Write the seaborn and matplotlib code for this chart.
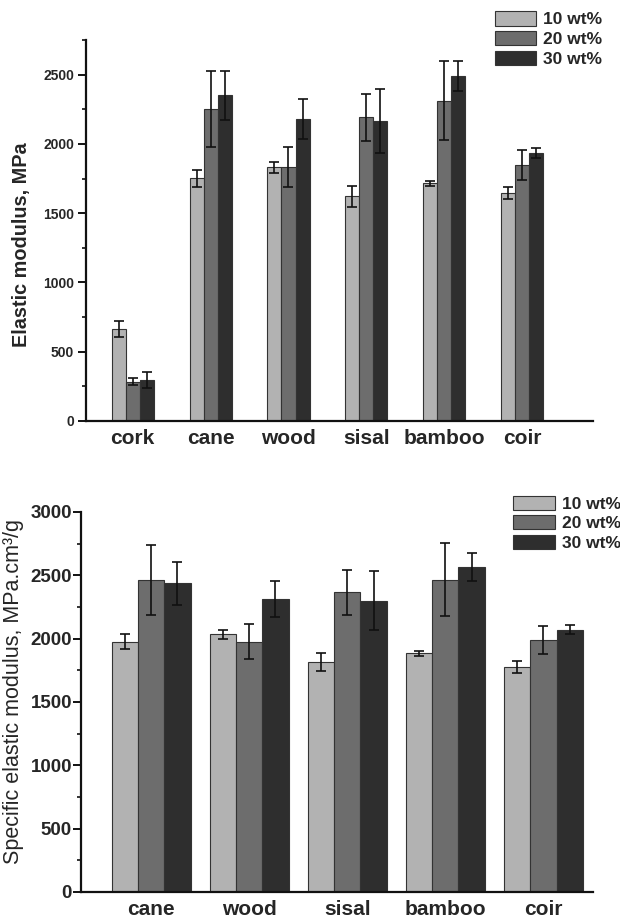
import numpy as np
import pandas as pd
import matplotlib
matplotlib.use("Agg")
import matplotlib.pyplot as plt
import seaborn as sns

# values
loadings = ["10 wt%", "20 wt%", "30 wt%"]
fibres_top = ["cork", "cane", "wood", "sisal", "bamboo", "coir"]
modulus_10 = [664, 1751, 1831, 1623, 1715, 1647]
modulus_20 = [283, 2251, 1831, 2191, 2312, 1848]
modulus_30 = [295, 2350, 2179, 2167, 2488, 1937]
modulus_err_10 = [56, 60, 40, 75, 19, 44]
modulus_err_20 = [24, 273, 145, 171, 287, 106]
modulus_err_30 = [60, 174, 145, 232, 109, 36]

fibres_bot = ["cane", "wood", "sisal", "bamboo", "coir"]
specific_10 = [1977, 2033, 1814, 1883, 1778]
specific_20 = [2464, 1975, 2366, 2464, 1988]
specific_30 = [2438, 2311, 2301, 2564, 2072]
specific_err_10 = [60, 37, 73, 19, 47]
specific_err_20 = [274, 139, 176, 289, 111]
specific_err_30 = [171, 142, 231, 110, 34]

sns.set_style("ticks")
plt.rcParams['font.family'] = ['Liberation Sans', 'DejaVu Sans']
plt.rcParams['font.weight'] = 'bold'

greys = ["#b2b2b2", "#6d6d6d", "#2e2e2e"]


def long_table(fibres, cols):
    rows = []
    for lab, vals in zip(loadings, cols):
        for f, v in zip(fibres, vals):
            rows.append({"fibre": f, "loading": lab, "value": v})
    return pd.DataFrame(rows)


def draw(ax, fibres, cols, errs, width):
    df = long_table(fibres, cols)
    sns.barplot(data=df, x="fibre", y="value", hue="loading", order=fibres,
                hue_order=loadings, palette=greys, width=width, gap=0,
                edgecolor="#333333", linewidth=0.8, saturation=1, errorbar=None, ax=ax)
    for cont, vals, err in zip(ax.containers, cols, errs):
        xs = [p.get_x() + p.get_width() / 2 for p in cont]
        ax.errorbar(xs, vals, yerr=err, fmt="none", ecolor="#111111",
                    elinewidth=1.2, capsize=3.5, capthick=1.2)
    for s in ["top", "right"]:
        ax.spines[s].set_visible(False)
    for s in ["left", "bottom"]:
        ax.spines[s].set_linewidth(1.6)
        ax.spines[s].set_color("#111111")
    ax.set_xlabel("")
    ax.minorticks_on()
    ax.tick_params(axis="x", which="both", length=0)
    ax.tick_params(axis="y", which="major", length=5.5, width=1.4, direction="out",
                   color="#111111")
    ax.tick_params(axis="y", which="minor", length=3, width=1.2, direction="out",
                   color="#111111")
    ax.set_yticks(np.arange(250, 3001, 500), minor=True)
    ax.get_legend().remove()


fig = plt.figure(figsize=(6.2, 9.19), dpi=100)

# upper panel: elastic modulus
ax1 = fig.add_axes([0.1387, 0.5419, 0.8178, 0.4146])
draw(ax1, fibres_top, [modulus_10, modulus_20, modulus_30],
     [modulus_err_10, modulus_err_20, modulus_err_30], 0.54)
ax1.set_xlim(-0.60, 5.91)
ax1.set_ylim(0, 2750)
ax1.set_yticks([0, 500, 1000, 1500, 2000, 2500])
ax1.tick_params(axis="y", labelsize=10, pad=3)
ax1.tick_params(axis="x", labelsize=15, pad=6)
ax1.set_ylabel("Elastic modulus, MPa", fontsize=14.3, fontweight="bold")
ax1.yaxis.set_label_coords(22 / 620, 1 - 245 / 919, transform=fig.transFigure)
ax1.yaxis.label.set_verticalalignment("center")
h1 = [plt.Rectangle((0, 0), 1, 1, fc=c, ec="#333333", lw=0.8) for c in greys]
fig.legend(h1, loadings, loc="upper left", bbox_to_anchor=(495 / 620, 1 - 11 / 919),
           frameon=False, borderpad=0, borderaxespad=0, handlelength=2.36,
           handleheight=0.92, handletextpad=0.4, labelspacing=0.2,
           prop={"size": 12.5, "weight": "bold"})

# lower panel: specific elastic modulus
ax2 = fig.add_axes([0.1306, 0.02938, 0.8258, 0.4135])
draw(ax2, fibres_bot, [specific_10, specific_20, specific_30],
     [specific_err_10, specific_err_20, specific_err_30], 0.805)
ax2.set_xlim(-0.714, 4.505)
ax2.set_ylim(0, 3000)
ax2.set_yticks([0, 500, 1000, 1500, 2000, 2500, 3000])
ax2.tick_params(axis="y", labelsize=13.5, pad=1)
ax2.tick_params(axis="x", labelsize=15, pad=6)
ax2.set_ylabel("Specific elastic modulus, MPa.cm\u00b3/g", fontsize=15.5,
               fontweight="normal")
ax2.yaxis.set_label_coords(14 / 620, 1 - 692 / 919, transform=fig.transFigure)
ax2.yaxis.label.set_verticalalignment("center")
h2 = [plt.Rectangle((0, 0), 1, 1, fc=c, ec="#333333", lw=0.8) for c in greys]
fig.legend(h2, loadings, loc="upper left", bbox_to_anchor=(513 / 620, 1 - 496 / 919),
           frameon=False, borderpad=0, borderaxespad=0, handlelength=2.4,
           handleheight=0.86, handletextpad=0.4, labelspacing=0.2,
           prop={"size": 12.5, "weight": "bold"})

fig.savefig("out.png", dpi=100)
